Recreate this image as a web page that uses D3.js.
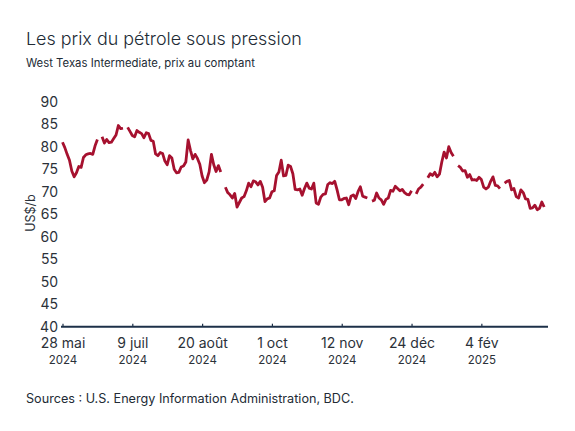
<!DOCTYPE html>
<html>
<head>
<meta charset="utf-8">
<script src="https://cdn.jsdelivr.net/npm/d3@7"></script>
<style>
  body { margin: 0; background: #fff; }
  svg { display: block; font-family: Inter, "Noto Sans", sans-serif; }
</style>
</head>
<body>
<svg id="chart" width="575" height="431"></svg>
<script>
// business-day index, holidays kept as null so the line breaks
const tickIdx = [0, 30, 60, 90, 120, 150, 180];
const tickDay = ["28 mai", "9 juil", "20 août", "1 oct", "12 nov", "24 déc", "4 fév"];
const tickYear = ["2024", "2024", "2024", "2024", "2024", "2024", "2025"];
const yTicks = [40, 45, 50, 55, 60, 65, 70, 75, 80, 85, 90];

const wti = [
  81.0, 79.8, 78.3, 77.0, 74.6, 73.3, 74.2, 75.6, 75.4, 77.6, 78.2, 78.4, 78.5, 78.3, 80.2, 81.6,
  null,
  82.2, 80.8, 81.6, 80.9, 81.0, 81.8, 82.6, 84.7, 84.0, 84.1,
  null,
  84.3, 83.4, 82.5, 82.2, 83.6, 83.2, 82.9, 82.0, 83.1, 82.9, 81.4, 81.2, 78.4, 78.0, 78.7, 78.5,
  76.8, 76.0, 78.0, 77.5, 75.0, 74.2, 74.3, 75.5, 75.7, 76.6, 81.5, 79.2, 77.3, 78.3, 77.4, 76.1,
  73.5, 72.0, 72.6, 74.4, 78.3, 76.0, 74.5, 75.8, 74.4,
  null,
  71.0, 69.8, 69.3, 68.6, 69.6, 66.6, 67.6, 68.6, 68.9, 70.2, 71.9, 71.1, 72.4, 72.2, 71.5, 72.3,
  71.0, 67.8, 68.4, 68.6, 70.0, 70.2, 73.6, 74.4, 77.0, 73.5, 73.6, 75.9, 75.6, 74.0, 70.5, 70.4,
  70.6, 69.2, 70.7, 71.9, 70.8, 70.6, 71.9, 67.5, 67.2, 68.8, 69.4, 69.5, 71.6, 72.0, 71.8, 72.3,
  70.4, 68.2, 68.2, 68.5, 68.6, 67.1, 69.0, 69.3, 68.5, 70.0, 71.1, 69.0, 68.8, 68.6,
  null,
  67.9, 68.1, 69.7, 68.6, 68.2, 67.2, 68.3, 68.6, 70.3, 70.1, 71.2, 70.7, 70.2, 70.5, 69.8, 69.4,
  69.3, 70.2,
  null,
  69.5, 70.6, 71.0, 71.7,
  null,
  73.1, 74.0, 73.6, 74.3, 73.3, 73.9, 76.6, 78.8, 77.5, 80.0, 78.7, 77.9,
  null,
  75.8, 75.4, 74.6, 74.7, 73.2, 73.8, 72.6, 72.7, 72.5, 73.2, 72.7, 71.0, 70.6, 71.0, 72.3, 73.3,
  71.4, 71.3, 70.7,
  null,
  71.9, 72.3, 72.5, 70.4, 70.7, 68.9, 68.6, 70.4, 69.8, 68.4, 68.3, 66.3, 66.4, 67.0, 66.0, 66.3,
  67.7, 66.6
];

const svg = d3.select("#chart");
const ink = "#222b35";

// scale a text so it spans the width measured on the reference
function fitWidth(sel, size, w) {
  sel.attr("font-size", size);
  const len = sel.node().getComputedTextLength();
  sel.attr("font-size", size * w / len);
}

fitWidth(svg.append("text").attr("x", 26).attr("y", 45).attr("fill", ink)
  .attr("font-weight", 300).text("Les prix du pétrole sous pression"), 21, 276);
fitWidth(svg.append("text").attr("x", 26).attr("y", 67).attr("fill", ink)
  .text("West Texas Intermediate, prix au comptant"), 13.5, 229);
fitWidth(svg.append("text").attr("x", 26).attr("y", 403).attr("fill", ink)
  .text("Sources : U.S. Energy Information Administration, BDC."), 14, 328);

const x = d3.scaleLinear().domain([0, 208]).range([62.5, 546.5]);
const y = d3.scaleLinear().domain([40, 90]).range([326.7, 101.7]);

// y axis labels only
const yAxis = svg.append("g")
  .attr("transform", "translate(58,0)")
  .call(d3.axisLeft(y).tickValues(yTicks).tickSize(0).tickPadding(0));
yAxis.select(".domain").remove();
yAxis.selectAll("text").attr("font-size", 14).attr("fill", "#2b3139")
  .style("font-family", "Inter, 'Noto Sans', sans-serif");

svg.append("text")
  .attr("transform", "translate(35,213) rotate(-90)")
  .attr("text-anchor", "middle")
  .attr("font-size", 12.5)
  .attr("fill", "#2b3139")
  .text("US$/b");

// x axis
const xAxis = svg.append("g")
  .attr("transform", `translate(0,${y(40)})`)
  .call(d3.axisBottom(x).tickValues(tickIdx).tickSize(-3).tickFormat(""));
xAxis.select(".domain").remove();
xAxis.selectAll(".tick line").attr("stroke", "#1d3048").attr("stroke-width", 1.2);
xAxis.append("line")
  .attr("x1", 61).attr("x2", 548)
  .attr("stroke", "#1d3048").attr("stroke-width", 2);

xAxis.selectAll(".tick").each(function (d, i) {
  const t = d3.select(this).append("text")
    .attr("fill", "#2b3139")
    .attr("text-anchor", "middle")
    .style("font-family", "Inter, 'Noto Sans', sans-serif");
  t.append("tspan").attr("x", 0).attr("y", 21).attr("font-size", 14).text(tickDay[i]);
  t.append("tspan").attr("x", 0).attr("y", 37).attr("font-size", 11.5).text(tickYear[i]);
});

const line = d3.line()
  .defined((d) => d != null)
  .x((d, i) => x(i))
  .y((d) => y(d));

svg.append("path")
  .datum(wti)
  .attr("fill", "none")
  .attr("stroke", "#a6112f")
  .attr("stroke-width", 2.8)
  .attr("stroke-linejoin", "round")
  .attr("d", line);
</script>
</body>
</html>
